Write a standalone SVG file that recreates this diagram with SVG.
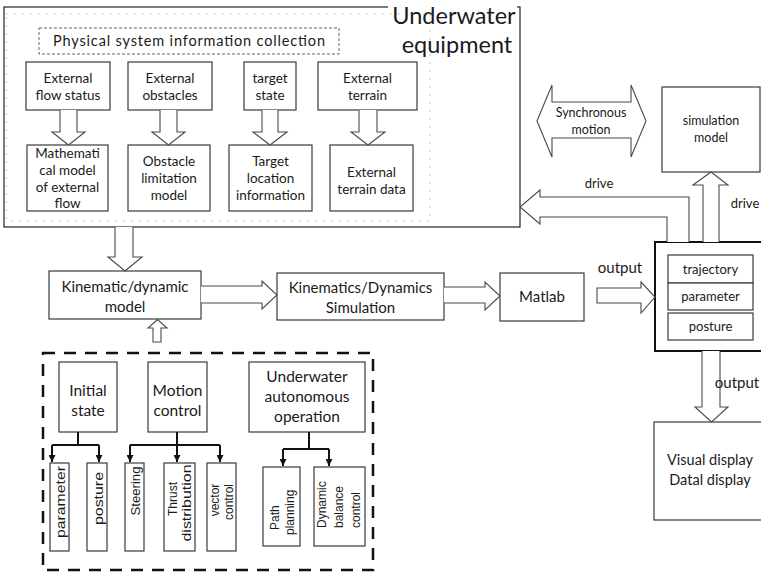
<svg xmlns="http://www.w3.org/2000/svg" width="761" height="572" viewBox="0 0 761 572">
<style>
.b{fill:#fff;stroke:#3a3a3a;stroke-width:1.2}
.ar{fill:#fff;stroke:#4a4a4a;stroke-width:1.1}
.t{font-family:Lato,"Liberation Sans",sans-serif;fill:#1a1a1a;text-anchor:middle;font-size:13.5px}
.v{font-family:"Liberation Sans",Arial,sans-serif;font-size:12px;fill:#1a1a1a}
.c{fill:none;stroke:#111;stroke-width:2}
</style>
<defs>
<marker id="m" markerUnits="userSpaceOnUse" markerWidth="7" markerHeight="7" refX="7" refY="3.5" orient="auto"><path d="M0,0 L7,3.5 L0,7 z" fill="#111"/></marker>
</defs>
<rect width="761" height="572" fill="#fff"/>

<g id="underwater-equipment">
<rect x="4" y="7" width="516" height="220" fill="#fff" stroke="#222" stroke-width="1.2"/>
<rect x="6.5" y="14" width="423.5" height="207" fill="none" stroke="#aaa" stroke-width="1.2" stroke-dasharray="1.2 6.8"/>
<rect x="388" y="3" width="129" height="9" fill="#fff"/>
<text class="t" x="454" y="24" style="font-size:23.5px">Underwater</text>
<text class="t" x="457" y="53" style="font-size:23.5px">equipment</text>
</g>
<g id="physical-info">
<rect x="39" y="28" width="300" height="26" fill="none" stroke="#666" stroke-width="1" stroke-dasharray="3 2"/>
<text class="t" x="189" y="46" style="font-size:14.5px" textLength="272">Physical system information collection</text>
</g>

<g id="ext-flow-status"><rect class="b" x="26" y="62" width="84" height="48"/>
<text class="t" x="68" y="83">External</text><text class="t" x="68" y="100">flow status</text></g>
<g id="ext-obstacles"><rect class="b" x="128" y="62" width="84" height="48"/>
<text class="t" x="170" y="83">External</text><text class="t" x="170" y="100">obstacles</text></g>
<g id="target-state"><rect class="b" x="244" y="62" width="52" height="48"/>
<text class="t" x="270" y="83">target</text><text class="t" x="270" y="100">state</text></g>
<g id="ext-terrain"><rect class="b" x="318" y="62" width="99" height="48"/>
<text class="t" x="367.5" y="83">External</text><text class="t" x="367.5" y="100">terrain</text></g>

<g id="math-model"><rect class="b" x="27" y="145" width="81" height="66"/>
<text class="t" x="67.5" y="158">Mathemati</text><text class="t" x="67.5" y="175">cal model</text><text class="t" x="67.5" y="192">of external</text><text class="t" x="67.5" y="208">flow</text></g>
<g id="obstacle-model"><rect class="b" x="128" y="145" width="82" height="66"/>
<text class="t" x="169" y="166">Obstacle</text><text class="t" x="169" y="183">limitation</text><text class="t" x="169" y="200">model</text></g>
<g id="target-location"><rect class="b" x="229" y="145" width="83" height="66"/>
<text class="t" x="270.5" y="166">Target</text><text class="t" x="270.5" y="183">location</text><text class="t" x="270.5" y="200">information</text></g>
<g id="terrain-data"><rect class="b" x="330" y="145" width="83" height="66"/>
<text class="t" x="371.5" y="177">External</text><text class="t" x="371.5" y="194">terrain data</text></g>

<g id="kinematic-model"><rect class="b" x="49" y="271" width="152" height="48"/>
<text class="t" x="125" y="292" style="font-size:15px">Kinematic/dynamic</text><text class="t" x="125" y="312" style="font-size:15px">model</text></g>
<g id="kinematics-sim"><rect class="b" x="277" y="273" width="167" height="47"/>
<text class="t" x="360.5" y="293" style="font-size:15px">Kinematics/Dynamics</text><text class="t" x="360.5" y="313" style="font-size:15px">Simulation</text></g>
<g id="matlab"><rect class="b" x="500" y="273" width="84" height="48"/>
<text class="t" x="542" y="302" style="font-size:15px">Matlab</text></g>

<g id="output-box">
<rect x="655" y="242" width="112" height="109" fill="#fff" stroke="#111" stroke-width="2"/>
<rect class="b" x="668" y="255" width="85" height="28"/><text class="t" x="710.5" y="274" style="font-size:13px">trajectory</text>
<rect class="b" x="668" y="283" width="85" height="27"/><text class="t" x="710.5" y="301" style="font-size:13px">parameter</text>
<rect class="b" x="668" y="313" width="85" height="27"/><text class="t" x="710.5" y="331" style="font-size:13px">posture</text>
</g>
<g id="simulation-model"><rect class="b" x="662" y="87" width="98" height="85"/>
<text class="t" x="711" y="125" style="font-size:12.5px">simulation</text><text class="t" x="711" y="142" style="font-size:12.5px">model</text></g>
<g id="display"><rect class="b" x="654" y="422" width="113" height="98"/>
<text class="t" x="710" y="465" style="font-size:14.5px">Visual display</text><text class="t" x="710" y="485" style="font-size:14.5px">Datal display</text></g>

<g id="control-group">
<rect x="43" y="353" width="330" height="217" fill="none" stroke="#111" stroke-width="2.5" stroke-dasharray="12 9"/>
</g>
<g id="initial-state"><rect class="b" x="59" y="362" width="58" height="70"/>
<text class="t" x="88" y="396" style="font-size:15.5px">Initial</text><text class="t" x="88" y="416" style="font-size:15.5px">state</text></g>
<g id="motion-control"><rect class="b" x="148" y="362" width="59" height="70"/>
<text class="t" x="177.5" y="396" style="font-size:15.5px">Motion</text><text class="t" x="177.5" y="416" style="font-size:15.5px">control</text></g>
<g id="autonomous-op"><rect class="b" x="249" y="362" width="116" height="70"/>
<text class="t" x="307" y="382" style="font-size:15.5px">Underwater</text><text class="t" x="307" y="402" style="font-size:15.5px">autonomous</text><text class="t" x="307" y="422" style="font-size:15.5px">operation</text></g>

<g id="parameter"><rect class="b" x="50" y="463" width="19" height="88"/>
<text class="v" transform="translate(64.5,502) rotate(-90)" text-anchor="middle" textLength="72" lengthAdjust="spacingAndGlyphs">parameter</text></g>
<g id="posture"><rect class="b" x="87" y="463" width="20" height="88"/>
<text class="v" transform="translate(103,498.5) rotate(-90)" text-anchor="middle" textLength="53" lengthAdjust="spacingAndGlyphs">posture</text></g>
<g id="steering"><rect class="b" x="125" y="463" width="19" height="88"/>
<text class="v" transform="translate(139.5,491) rotate(-90)" text-anchor="middle" textLength="49" lengthAdjust="spacingAndGlyphs">Steering</text></g>
<g id="thrust"><rect class="b" x="164" y="463" width="31" height="88"/>
<text class="v" transform="translate(177,499) rotate(-90)" text-anchor="middle">Thrust</text>
<text class="v" transform="translate(191,503) rotate(-90)" text-anchor="middle" textLength="77" lengthAdjust="spacingAndGlyphs">distribution</text></g>
<g id="vector-control"><rect class="b" x="207" y="463" width="29" height="88"/>
<text class="v" transform="translate(219,500) rotate(-90)" text-anchor="middle">vector</text>
<text class="v" transform="translate(233,502) rotate(-90)" text-anchor="middle">control</text></g>
<g id="path-planning"><rect class="b" x="263" y="467" width="37" height="79"/>
<text class="v" transform="translate(279,530) rotate(-90)">Path</text>
<text class="v" transform="translate(294,535) rotate(-90)">planning</text></g>
<g id="dynamic-balance"><rect class="b" x="314" y="467" width="51" height="79"/>
<text class="v" transform="translate(326,528) rotate(-90)">Dynamic</text>
<text class="v" transform="translate(343,528) rotate(-90)">balance</text>
<text class="v" transform="translate(360,528) rotate(-90)">control</text></g>

<g id="connectors">
<path class="ar" d="M60,110 V132 H52 L68.5,145 L85,132 H77 V110"/>
<path class="ar" d="M160,110 V132 H152 L168.5,145 L185,132 H177 V110"/>
<path class="ar" d="M262,110 V132 H253 L270,145 L287,132 H278 V110"/>
<path class="ar" d="M359,110 V132 H351 L368,145 L385,132 H377 V110"/>
<path class="ar" d="M115,227 V257 H108 L125,271 L142,257 H133 V227"/>
<path class="ar" d="M153,342 V328 H148 L157.5,319.5 L167,328 H161 V342 Z"/>
<path class="ar" d="M201,286 H262 V281 L277,295 L262,309 V303 H201"/>
<path class="ar" d="M444,287 H485 V282 L500,296 L485,310 V303 H444"/>
<path class="ar" d="M597,288 H641 V282 L655,297 L641,313 V303 H597 Z"/>
<path class="ar" d="M537,121 L552,85 V102 H631 V85 L646,121 L631,157 V138 H552 V157 Z"/>
<path class="ar" d="M667,242 V217 H540 V224 L520,207 L540,190 V197 H689 V242"/>
<path class="ar" d="M703,242 V185 H693 L711,172 L728,185 H719 V242"/>
<path class="ar" d="M702,351 V407 H695 L711.5,422 L728,407 H720 V351"/>
<text class="t" x="591" y="117" style="font-size:12.5px">Synchronous</text>
<text class="t" x="591" y="134" style="font-size:12.5px">motion</text>
<text class="t" x="599" y="188" style="font-size:13px">drive</text>
<text class="t" x="745" y="208" style="font-size:13px">drive</text>
<text class="t" x="620" y="273" style="font-size:15px">output</text>
<text class="t" x="737" y="388" style="font-size:15px">output</text>
<path class="c" d="M78,432 V445 M52,445 H99 M177,432 V445 M130,445 H220 M309,432 V449 M283,449 H329"/>
<path class="c" d="M52,445 V462" marker-end="url(#m)"/>
<path class="c" d="M99,445 V462" marker-end="url(#m)"/>
<path class="c" d="M130,445 V462" marker-end="url(#m)"/>
<path class="c" d="M177,445 V462" marker-end="url(#m)"/>
<path class="c" d="M220,445 V462" marker-end="url(#m)"/>
<path class="c" d="M283,449 V466" marker-end="url(#m)"/>
<path class="c" d="M329,449 V466" marker-end="url(#m)"/>
</g>
</svg>
